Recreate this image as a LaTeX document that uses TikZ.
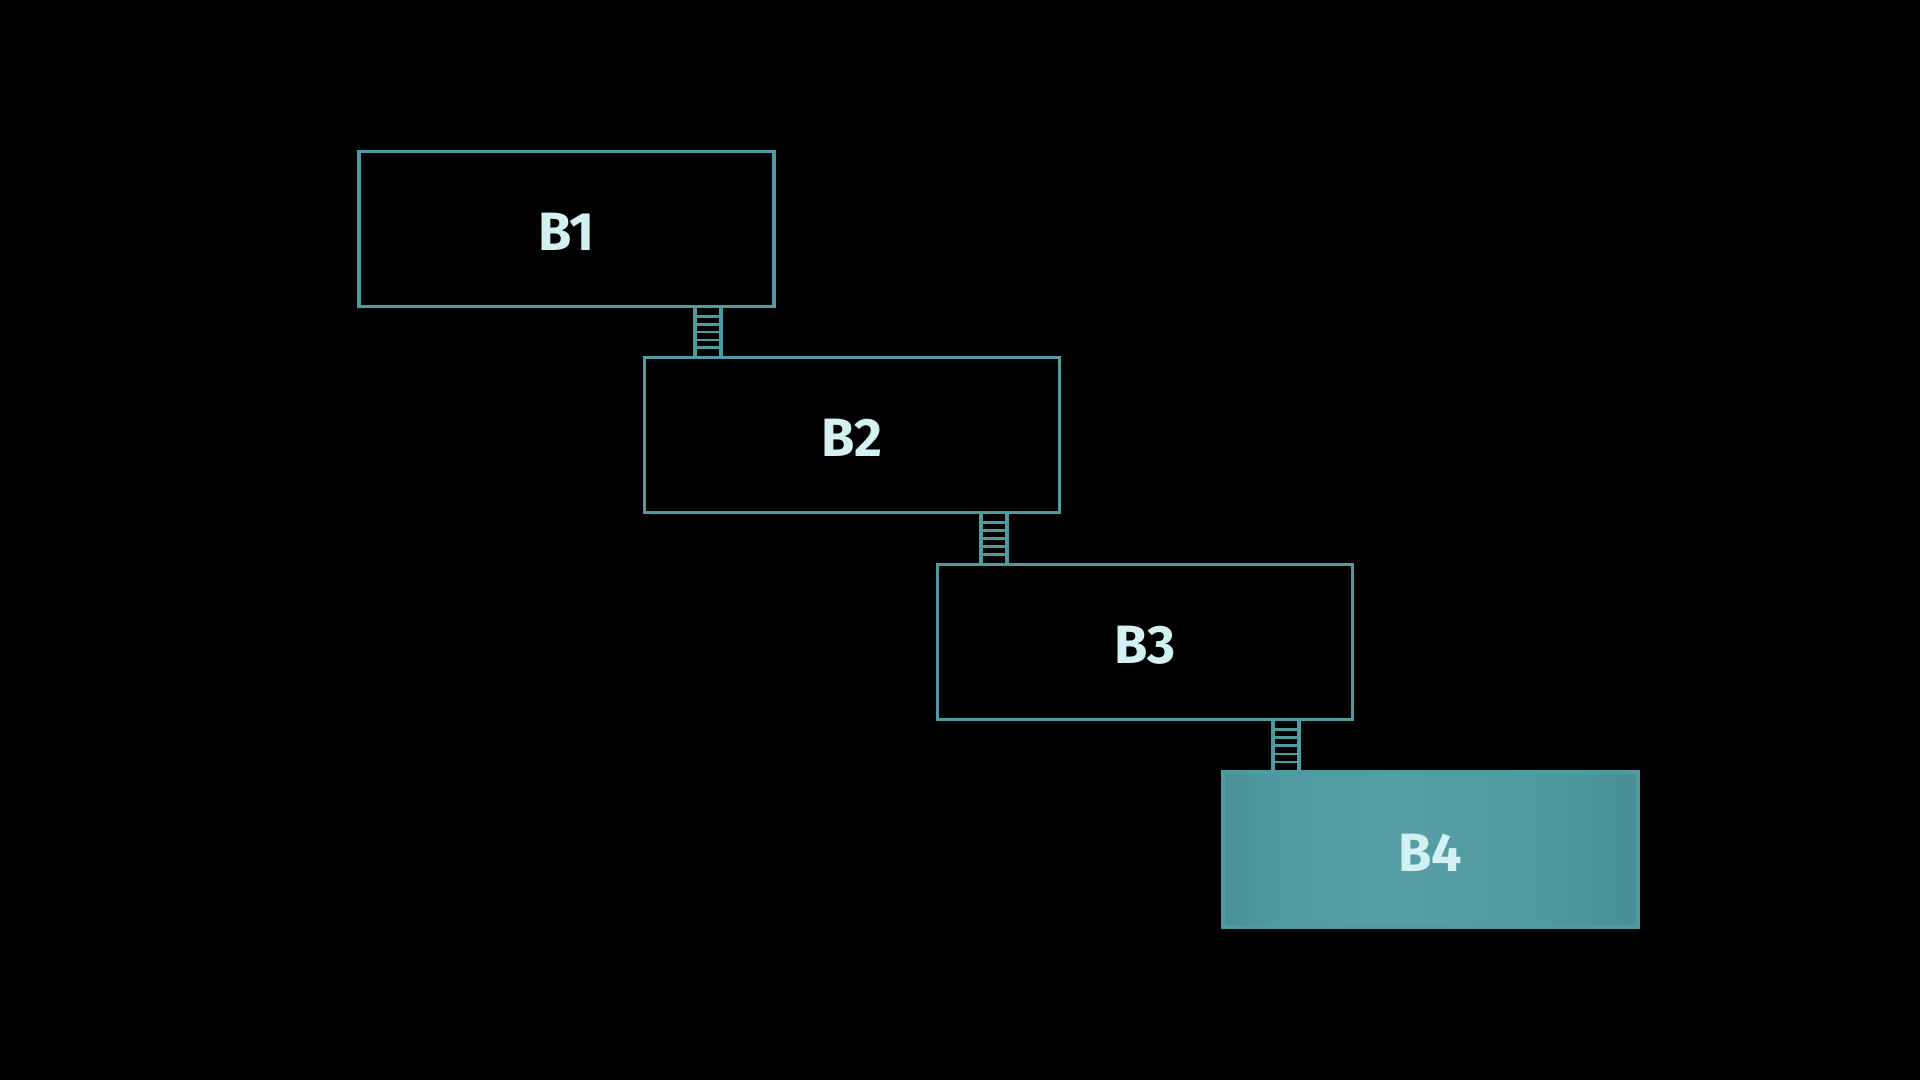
\documentclass[tikz,border=0pt]{standalone}
\usepackage{fontspec}
\setmainfont{Fira Sans}
\usetikzlibrary{calc}
\definecolor{edge}{HTML}{4F9BA2}
\definecolor{txt}{HTML}{D3F0F3}
\pgfdeclarehorizontalshading{bfour}{100bp}{%
  color(0bp)=(edge!82!black!100);
  color(9bp)=(edge!78!black!100);
  color(18bp)=(edge!84!black!100);
  color(30bp)=(edge!98!black!100);
  color(45bp)=(edge!96!white!100);
  color(65bp)=(edge!98!black!100);
  color(78bp)=(edge!90!black!100);
  color(90bp)=(edge!83!black!100);
  color(100bp)=(edge!87!black!100)}
\tikzset{
  blk/.style={draw=edge, line width=3.6pt, minimum width=415pt, minimum height=155pt,
    inner sep=0pt, text=txt, font=\fontsize{54}{56}\selectfont\bfseries},
  rail/.style={draw=edge, line width=3.6pt},
  rung/.style={draw=edge, line width=2.8pt}
}
\newcommand{\lbl}[1]{\raisebox{-21.5pt}[0pt][0pt]{#1}}
\newcommand{\ladderx}[3]{% from node, to node, x centre
  \coordinate (la) at (#3-13,0);
  \coordinate (lb) at (#3+13,0);
  \draw[rail] (la |- #1.south) -- (la |- #2.north);
  \draw[rail] (lb |- #1.south) -- (lb |- #2.north);
  \foreach \t in {0.1667,0.3333,0.5,0.6667,0.8333}{
    \draw[rung] ($(la |- #1.south)!\t!(la |- #2.north)$) -- ($(lb |- #1.south)!\t!(lb |- #2.north)$);
  }
}
\begin{document}
\begin{tikzpicture}[x=1pt,y=-1pt]
\fill[black] (0,0) rectangle (1920,1080);
\useasboundingbox (0,0) rectangle (1920,1080);
\node[blk] (b1) at (566.5,229) {\lbl{B1}};
\node[blk] (b2) at (852,435) {\lbl{B2}};
\node[blk] (b3) at (1145,642) {\lbl{B3}};
\node[blk, shading=bfour] (b4) at (1430.5,849.5) {\lbl{B4}};
\ladderx{b1}{b2}{708}
\ladderx{b2}{b3}{994}
\ladderx{b3}{b4}{1286}
\end{tikzpicture}
\end{document}
